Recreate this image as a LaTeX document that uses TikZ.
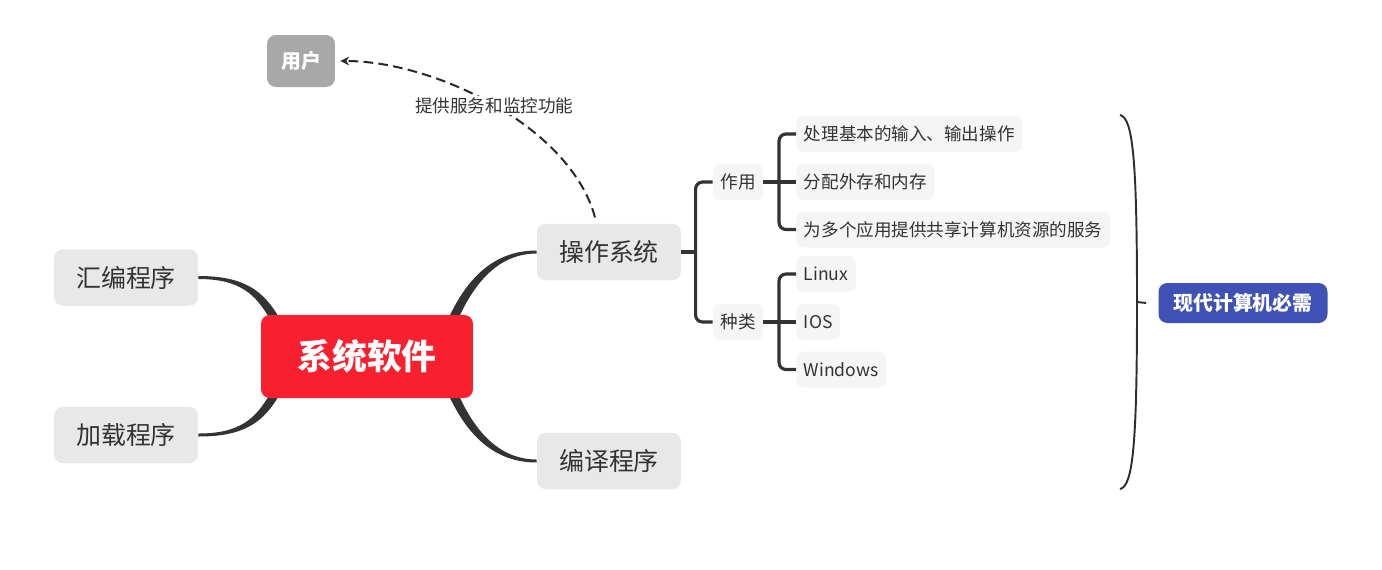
\documentclass[tikz,border=0pt]{standalone}
\usepackage{fontspec}
\newfontfamily\cjk{Noto Sans CJK SC}
\usetikzlibrary{arrows.meta,calc,backgrounds}
\definecolor{ink}{HTML}{333333}
\definecolor{topicgray}{HTML}{E8E8E8}
\definecolor{subgray}{HTML}{F5F5F5}
\definecolor{rootred}{HTML}{F8202F}
\definecolor{usergray}{HTML}{A8A8A8}
\definecolor{needblue}{HTML}{3F51B5}
\begin{document}
\begin{tikzpicture}[x=0.02cm, y=-0.02cm, every node/.style={font=\cjk},
  topic/.style={fill=topicgray,rounded corners=5pt,minimum width=2.88cm,minimum height=1.13cm,text=ink,font=\cjk\fontsize{14.2}{16}\selectfont},
  sub/.style={fill=subgray,rounded corners=4pt,minimum height=0.72cm,inner xsep=0.15cm,text=ink,font=\cjk\fontsize{10}{12}\selectfont},
  leaf/.style={sub,anchor=west},
  limb/.style={fill=ink},
  stem/.style={draw=ink,line width=1.8pt,rounded corners=4pt},
  link/.style={draw=ink!80!black,line width=1.15pt,dash pattern=on 5.5pt off 3pt,-{Stealth[length=5pt,width=5pt]}},
  brace/.style={draw=ink!90!black,line width=1.1pt}]
\useasboundingbox (0,0) rectangle (1382,569);
\node[fill=rootred,rounded corners=5pt,minimum width=4.24cm,minimum height=1.66cm,text=white,font=\cjk\bfseries\fontsize{19.8}{22}\selectfont] (sys) at (367,356.5) {系统软件};
\node[topic] (asm) at (126,277.5) {汇编程序};
\node[topic] (load) at (126,435) {加载程序};
\node[topic] (os) at (609,252) {操作系统};
\node[topic] (comp) at (609,461) {编译程序};
\node[fill=usergray,rounded corners=5pt,minimum width=1.36cm,minimum height=1.04cm,text=white,font=\cjk\bfseries\fontsize{11.3}{13}\selectfont] (user) at (301,61) {用户};
\node[sub] (func) at (738,182) {作用};
\node[sub] (kind) at (738,322) {种类};
\node[leaf] (io) at (796,134) {处理基本的输入、输出操作};
\node[leaf] (mem) at (796,182) {分配外存和内存};
\node[leaf] (share) at (796,229.5) {为多个应用提供共享计算机资源的服务};
\node[leaf] (lin) at (796,274) {Linux};
\node[leaf] (ios) at (796,322) {IOS};
\node[leaf] (win) at (796,369.5) {Windows};
\node[fill=needblue,rounded corners=5pt,minimum width=3.38cm,minimum height=0.8cm,text=white,font=\cjk\bfseries\fontsize{11.3}{13}\selectfont] (need) at (1243,303) {现代计算机必需};
% tapered branches
\begin{scope}[on background layer]
\fill[limb] ($(asm.east)+(0,-1.5)$) .. controls +(46,0) and +(-16,-28) .. ($(sys.north west)+(19,4)$) -- ($(sys.north west)+(9,4)$) .. controls +(-14,-24) and +(42,0) .. ($(asm.east)+(0,1.5)$) -- cycle;
\fill[limb] ($(load.east)+(0,1.5)$) .. controls +(46,0) and +(-16,28) .. ($(sys.south west)+(19,-4)$) -- ($(sys.south west)+(9,-4)$) .. controls +(-14,24) and +(42,0) .. ($(load.east)+(0,-1.5)$) -- cycle;
\fill[limb] ($(os.west)+(0,-1.5)$) .. controls +(-50,0) and +(14,-30) .. ($(sys.north east)+(-25,4)$) -- ($(sys.north east)+(-15,4)$) .. controls +(12,-26) and +(-44,0) .. ($(os.west)+(0,1.5)$) -- cycle;
\fill[limb] ($(comp.west)+(0,1.5)$) .. controls +(-50,0) and +(14,30) .. ($(sys.south east)+(-25,-4)$) -- ($(sys.south east)+(-15,-4)$) .. controls +(12,26) and +(-44,0) .. ($(comp.west)+(0,-1.5)$) -- cycle;
\end{scope}
% brackets
\draw[stem] (os.east) -- ++(16,0);
\draw[stem] (func.west) -- ++(-17,0) |- (kind.west);
\draw[stem] (io.west) -- ++(-17,0) |- (share.west);
\draw[stem] (func.east) -- (mem.west);
\draw[stem] (lin.west) -- ++(-17,0) |- (win.west);
\draw[stem] (kind.east) -- (ios.west);
% dashed relation
\draw[link] ($(os.north)+(-14,-6)$) .. controls +(-24,-90) and +(95,0) .. ($(user.east)+(5,0)$) node[pos=0.5,fill=white,inner sep=1pt,text=ink,font=\cjk\fontsize{10}{12}\selectfont] {提供服务和监控功能};
% summary brace
\coordinate (bt) at (1120,115);
\coordinate (bm) at (1137,302);
\coordinate (bb) at (1120,489);
\draw[brace] (bt) .. controls (1133,118) and (1137,160) .. (bm) .. controls (1137,445) and (1133,486) .. (bb);
\draw[brace] (bm) -- ($(need.west)+(-12,0)$);
\end{tikzpicture}
\end{document}
